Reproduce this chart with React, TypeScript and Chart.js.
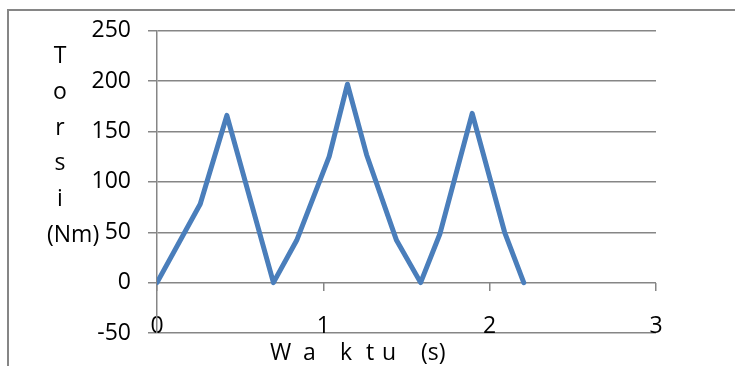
import React, { useEffect, useRef } from "react";
import { Chart, registerables } from "chart.js";

Chart.register(...registerables);

// ---- data ----
const time = [0, 0.26, 0.42, 0.7, 0.84, 1.035, 1.145, 1.26, 1.44, 1.585, 1.7, 1.895, 2.09, 2.205];
const torsi = [0, 78, 166, 0, 42, 125, 197, 127, 42, 0, 48, 168, 50, 0];
const xMin = 0;
const xMax = 3;
const xStep = 1;
const yMin = -50;
const yMax = 250;
const yStep = 50;
const yTitleLines = ["T", "o", "r", "s", "i", "(Nm)"];
const xTitleParts = ["W", "a", "k", "t", "u", "(s)"];

const FONT = "'Open Sans', sans-serif";
const FONT_SIZE = 23;
const GRID = "#868686";
const LINE = "#4a7ebb";

// layout of the x title pieces (pixel x of each piece's left edge)
const X_TITLE_POS = [270, 303, 340, 366, 382, 421];

export default function App() {
  const ref = useRef<HTMLCanvasElement>(null);

  useEffect(() => {
    const canvas = ref.current;
    if (!canvas) return;

    const decor = {
      id: "decor",
      beforeDraw(chart: any) {
        const ctx = chart.ctx;
        ctx.save();
        ctx.fillStyle = "#ffffff";
        ctx.fillRect(0, 0, chart.width, chart.height);
        ctx.strokeStyle = GRID;
        ctx.lineWidth = 2;
        ctx.strokeRect(8, 10, chart.width + 40, chart.height + 40);
        ctx.restore();
      },
      afterDraw(chart: any) {
        const ctx = chart.ctx;
        ctx.save();
        ctx.fillStyle = "#000000";
        ctx.font = `${FONT_SIZE}px ${FONT}`;
        ctx.textBaseline = "alphabetic";
        yTitleLines.forEach((t, i) => {
          const last = i === yTitleLines.length - 1;
          ctx.textAlign = last ? "left" : "center";
          ctx.fillText(t, last ? 47 : 60, 63 + i * 35.8);
        });
        ctx.textAlign = "left";
        xTitleParts.forEach((t, i) => {
          ctx.fillText(t, X_TITLE_POS[i], 360);
        });
        ctx.restore();
      },
    };

    const chart = new Chart(canvas, {
      type: "line",
      data: {
        datasets: [
          {
            data: time.map((t, i) => ({ x: t, y: torsi[i] })),
            borderColor: LINE,
            backgroundColor: LINE,
            borderWidth: 5,
            borderJoinStyle: "round",
            borderCapStyle: "round",
            pointRadius: 0,
            tension: 0,
            fill: false,
          },
        ],
      },
      options: {
        animation: false,
        responsive: false,
        devicePixelRatio: 1,
        layout: { padding: { top: 28, right: 79, left: 0, bottom: 0 } },
        plugins: {
          legend: { display: false },
          tooltip: { enabled: false },
          title: { display: false },
        },
        scales: {
          x: {
            type: "linear",
            position: "bottom",
            min: xMin,
            max: xMax,
            ticks: {
              stepSize: xStep,
              mirror: true,
              padding: -7,
              maxRotation: 0,
              color: "#000000",
              font: { family: FONT, size: FONT_SIZE },
            },
            grid: { display: false, drawTicks: false },
            border: { display: false },
            afterFit(s: any) {
              s.height = 33;
            },
          },
          x0: {
            type: "linear",
            position: { y: 0 },
            min: xMin,
            max: xMax,
            ticks: { stepSize: xStep, display: false },
            grid: {
              drawOnChartArea: false,
              drawTicks: true,
              tickLength: 8,
              color: GRID,
              lineWidth: 1.5,
            },
            border: { display: false },
          },
          y: {
            type: "linear",
            position: "left",
            min: yMin,
            max: yMax,
            ticks: {
              stepSize: yStep,
              padding: 17,
              color: "#000000",
              font: { family: FONT, size: FONT_SIZE },
            },
            grid: { color: GRID, lineWidth: 1.5, tickLength: 9 },
            border: { color: GRID, width: 1.5 },
            afterFit(s: any) {
              s.width = 157;
            },
          },
        },
      } as any,
      plugins: [decor],
    });

    return () => chart.destroy();
  }, []);

  return (
    <div style={{ position: "absolute", left: 0, top: 0, width: 735, height: 366 }}>
      <canvas ref={ref} width={735} height={366} style={{ display: "block" }} />
    </div>
  );
}
